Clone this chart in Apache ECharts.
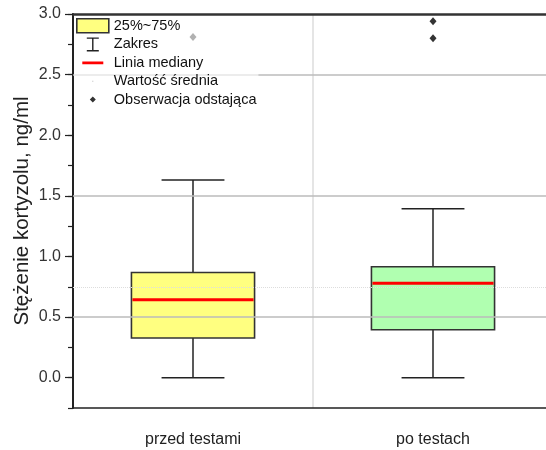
<!DOCTYPE html>
<html>
<head>
<meta charset="utf-8">
<script src="https://cdn.jsdelivr.net/npm/echarts@6/dist/echarts.min.js"></script>
<style>html,body{margin:0;padding:0;background:#fff}#chart{width:546px;height:450px}</style>
</head>
<body>
<div id="chart"></div>
<script>
// ---- data ----
const categories = ['przed testami', 'po testach'];
// [min, Q1, median, Q3, max]
const boxMin = [0.0, 0.0];
const boxQ1 = [0.327, 0.396];
const boxMedian = [0.643, 0.78];
const boxQ3 = [0.868, 0.915];
const boxMax = [1.63, 1.393];
const boxColors = ['#FFFF80', '#B0FFB0'];
const outlierCategory = [0, 1, 1];
const outlierValues = [2.81, 2.94, 2.80];
const yMajorTicks = [0, 0.5, 1.0, 1.5, 2.0, 2.5, 3.0];
const gridLineValues = [0.5, 1.5, 2.5];
const dottedLineValues = [0.75];
const legendNames = ['25%~75%', 'Zakres', 'Linia mediany', 'Wartość średnia', 'Obserwacja odstająca'];

const FONT = 'Arial, "Liberation Sans", sans-serif';
const boxData = categories.map((c, i) => [i, boxMin[i], boxQ1[i], boxMedian[i], boxQ3[i], boxMax[i]]);
const outlierData = outlierValues.map((v, i) => [outlierCategory[i], v]);

// invisible corner points to give every legend icon a 32x14 bounding box
const corners = 'M0,0L0.01,0L0,0.01Z M32,14L31.99,14L32,13.99Z ';
const iconIbeam = 'path://' + corners + 'M10,0H22V1.4H10Z M15.3,0H16.7V14H15.3Z M10,12.6H22V14H10Z';
const iconMedian = 'path://' + corners + 'M5.5,5.6H26.5V8.4H5.5Z';
const iconMean = 'path://' + corners + 'M15.5,6.5H16.5V7.5H15.5Z';
const iconOutlier = 'path://' + corners + 'M16,4L19,7L16,10L13,7Z';

function renderBox(params, api) {
  const x = api.value(0);
  const pMin = api.coord([x, api.value(1)]);
  const pQ1 = api.coord([x, api.value(2)]);
  const pMed = api.coord([x, api.value(3)]);
  const pQ3 = api.coord([x, api.value(4)]);
  const pMax = api.coord([x, api.value(5)]);
  const band = api.size([1, 0])[0];
  const bw = band * 0.513;
  const cw = band * 0.262;
  const cx = pMed[0];
  const wStyle = { stroke: '#222', lineWidth: 1.5 };
  return {
    type: 'group',
    children: [
      { type: 'line', shape: { x1: cx, y1: pQ3[1], x2: cx, y2: pMax[1] }, style: wStyle },
      { type: 'line', shape: { x1: cx, y1: pQ1[1], x2: cx, y2: pMin[1] }, style: wStyle },
      { type: 'line', shape: { x1: cx - cw / 2, y1: pMax[1], x2: cx + cw / 2, y2: pMax[1] }, style: wStyle },
      { type: 'line', shape: { x1: cx - cw / 2, y1: pMin[1], x2: cx + cw / 2, y2: pMin[1] }, style: wStyle },
      { type: 'rect', shape: { x: cx - bw / 2, y: pQ3[1], width: bw, height: pQ1[1] - pQ3[1] },
        style: { fill: boxColors[params.dataIndex], stroke: '#333', lineWidth: 1.6 } },
      { type: 'line', shape: { x1: cx - bw / 2 + 1, y1: pMed[1], x2: cx + bw / 2 - 1, y2: pMed[1] },
        style: { stroke: '#FF0000', lineWidth: 3 } }
    ]
  };
}

const chart = echarts.init(document.getElementById('chart'), null, { renderer: 'canvas' });
chart.setOption({
  animation: false,
  backgroundColor: '#fff',
  textStyle: { fontFamily: FONT },
  grid: { left: 73, top: 14, width: 480, height: 394, containLabel: false, outerBoundsMode: 'none' },
  legend: {
    left: 74, top: 16, orient: 'vertical',
    itemWidth: 32, itemHeight: 14, itemGap: 3.35,
    padding: [2, 2, 4, 2],
    backgroundColor: 'rgba(255,255,255,0.62)',
    z: 20,
    selectedMode: false,
    textStyle: { fontSize: 14.5, color: '#111', fontFamily: FONT, padding: [0, 0, 0, 0] },
    data: [
      { name: legendNames[0], icon: 'rect', itemStyle: { color: boxColors[0], borderColor: '#333', borderWidth: 1.6 } },
      { name: legendNames[1], icon: iconIbeam, itemStyle: { color: '#222', borderWidth: 0 } },
      { name: legendNames[2], icon: iconMedian, itemStyle: { color: '#FF0000', borderWidth: 0 } },
      { name: legendNames[3], icon: iconMean, itemStyle: { color: '#bbb', borderWidth: 0 } },
      { name: legendNames[4], icon: iconOutlier, itemStyle: { color: '#000', borderWidth: 0 } }
    ]
  },
  xAxis: [
    {
      type: 'category', data: categories, boundaryGap: true,
      axisLine: { onZero: false, lineStyle: { color: '#222', width: 1.5 } },
      axisTick: { alignWithLabel: true, length: 6, lineStyle: { color: '#222', width: 1.2 } },
      axisLabel: { fontSize: 16, color: '#222', margin: 24, fontFamily: FONT },
      splitLine: { show: true, lineStyle: { color: '#ddd', width: 1.5 } }
    },
    {
      type: 'category', data: categories, position: 'top',
      axisLine: { onZero: false, lineStyle: { color: '#333', width: 2.5 } },
      axisTick: { show: false }, axisLabel: { show: false }, splitLine: { show: false }
    }
  ],
  yAxis: [
    {
      type: 'value', min: -0.25, max: 3.0, interval: 0.25,
      name: 'Stężenie kortyzolu, ng/ml', nameLocation: 'middle', nameGap: 40, nameMoveOverlap: false,
      nameTextStyle: { fontSize: 20.5, color: '#222', fontFamily: FONT },
      axisLine: { show: true, onZero: false, lineStyle: { color: '#222', width: 2 } },
      axisTick: { show: true, length: 5, lineStyle: { color: '#222', width: 1.2 } },
      axisLabel: {
        fontSize: 16, color: '#333', margin: 12, fontFamily: FONT,
        formatter: v => (Math.abs(v * 2 - Math.round(v * 2)) < 1e-6 ? v.toFixed(1) : '')
      },
      splitLine: { show: false }
    },
    {
      type: 'value', min: -0.25, max: 3.0, position: 'left',
      axisLine: { show: false, onZero: false },
      axisTick: { show: true, length: 8, customValues: yMajorTicks, lineStyle: { color: '#222', width: 1.2 } },
      axisLabel: { show: false },
      splitLine: { show: false }
    }
  ],
  series: [
    {
      type: 'line', name: '', data: [], z: 1, silent: true,
      markLine: {
        silent: true, symbol: 'none', label: { show: false }, animation: false,
        data: gridLineValues.map(v => ({ yAxis: v, lineStyle: { color: '#bbb', width: 1.5, type: 'solid' } }))
          .concat(dottedLineValues.map(v => ({ yAxis: v, lineStyle: { color: '#ddd', width: 1, type: 'dotted' } })))
      }
    },
    { type: 'custom', name: legendNames[0], renderItem: renderBox, data: boxData, z: 3,
      encode: { x: 0, y: [1, 2, 3, 4, 5] } },
    { type: 'line', name: legendNames[1], data: [] },
    { type: 'line', name: legendNames[2], data: [] },
    { type: 'line', name: legendNames[3], data: [] },
    { type: 'scatter', name: legendNames[4], data: outlierData, symbol: 'diamond', symbolSize: [7, 8],
      itemStyle: { color: '#000' }, z: 4 }
  ]
});
</script>
</body>
</html>
